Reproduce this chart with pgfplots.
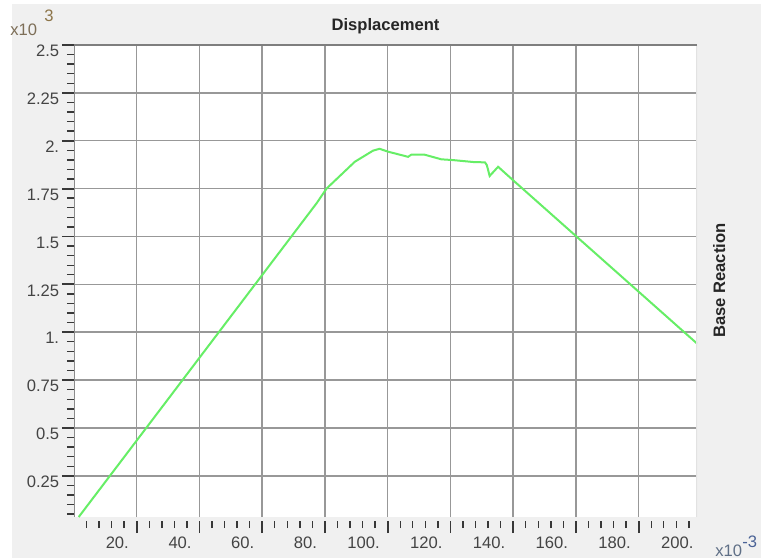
\documentclass[border=0pt]{standalone}
\usepackage{pgfplots}
\pgfplotsset{compat=1.18}
\usepackage{fontspec}
\setmainfont{Liberation Sans}
\definecolor{bggray}{HTML}{F0F0F0}
\definecolor{gridgray}{HTML}{989898}
\definecolor{leftgray}{HTML}{8C8C8C}
\definecolor{topgray}{HTML}{7E7E7E}
\definecolor{rightgray}{HTML}{E2E2E2}
\definecolor{tickcol}{HTML}{383838}
\definecolor{labcol}{HTML}{444444}
\definecolor{plotgreen}{HTML}{66EE66}
\definecolor{brownA}{HTML}{7D6E57}
\definecolor{brownB}{HTML}{8C7448}
\definecolor{blueA}{HTML}{5F6F86}
\definecolor{blueB}{HTML}{4A6296}
\newcommand\tfont{\fontsize{8.3}{10}\selectfont}
\begin{document}
\begin{tikzpicture}
\useasboundingbox (0,0) rectangle (380.5pt,279.5pt);
\fill[white] (0,0) rectangle (380.5pt,279.5pt);
\fill[bggray] (6pt,0.5pt) rectangle (380.5pt,277.5pt);
\begin{axis}[
  at={(37pt,21pt)}, anchor=south west,
  scale only axis, width=311.5pt, height=236pt,
  xmin=0, xmax=198.6, ymin=0.035, ymax=2.5,
  axis background/.style={fill=white},
  axis line style={draw=none},
  tick pos=left, tick align=outside,
  xtick={20,40,...,180},
  xticklabels={20.,40.,60.,80.,100.,120.,140.,160.,180.},
  ytick={0.25,0.5,0.75,1,1.25,1.5,1.75,2,2.25,2.5},
  yticklabels={0.25,0.5,0.75,1.,1.25,1.5,1.75,2.,2.25,2.5},
  minor xtick={4,8,...,196},
  minor ytick={0.05,0.1,0.15,0.2,0.3,0.35,0.4,0.45,0.55,0.6,0.65,0.7,0.8,0.85,0.9,0.95,1.05,1.1,1.15,1.2,1.3,1.35,1.4,1.45,1.55,1.6,1.65,1.7,1.8,1.85,1.9,1.95,2.05,2.1,2.15,2.2,2.3,2.35,2.4,2.45},
  major tick length=6pt, minor tick length=3.5pt,
  every major tick/.append style={line width=0.9pt, color=tickcol},
  every minor tick/.append style={line width=0.7pt, color=tickcol},
  xtick style={yshift=-2pt},
  grid=major,
  major grid style={color=gridgray, line width=0.75pt},
  /pgf/number format/assume math mode=true,
  ticklabel style={font=\tfont, text=labcol, inner sep=0pt},
  xticklabel style={anchor=north east, xshift=-3.75pt, yshift=-3.85pt},
  yticklabel style={anchor=east, xshift=-1.25pt, yshift=-3pt},
]
\addplot[color=plotgreen, line width=1pt] coordinates {
  (1.5,0.035) (77.4,1.675) (80.5,1.75) (89.5,1.89) (95.3,1.948) (97.4,1.958)
  (100.1,1.943) (106.5,1.916) (107.5,1.927) (111.8,1.927)
  (117.1,1.903) (120.8,1.899) (127.2,1.889) (131,1.887)
  (131.6,1.873) (132.5,1.816) (135.2,1.864) (140.5,1.786)
  (198.6,0.941)
};
\draw[rightgray, line width=0.6pt] (rel axis cs:1,0) -- (rel axis cs:1,1);
\draw[leftgray, line width=0.8pt] (rel axis cs:0,0) -- (rel axis cs:0,1);
\draw[topgray, line width=1.5pt] (rel axis cs:0,1) -- (rel axis cs:1,1);
\end{axis}
\node[font=\tfont, text=labcol, inner sep=0pt, anchor=north east] at (346.95pt,11.15pt) {200.};
\node[font=\tfont\bfseries, text=black!85, anchor=base, inner sep=0pt] at (192.75pt,264.5pt) {Displacement};
\node[font=\tfont\bfseries, text=black!85, anchor=base, rotate=90, inner sep=0pt] at (362.5pt,139.2pt) {Base Reaction};
\node[font=\tfont, text=brownA, anchor=base west, inner sep=0pt] at (5pt,262pt) {x10};
\node[font=\tfont, text=brownB, anchor=base west, inner sep=0pt] at (22pt,269pt) {3};
\node[font=\tfont, text=blueA, anchor=base west, inner sep=0pt] at (357.5pt,1.2pt) {x10};
\node[font=\tfont, text=blueB, anchor=base west, inner sep=0pt] at (371pt,6pt) {-3};
\end{tikzpicture}
\end{document}
